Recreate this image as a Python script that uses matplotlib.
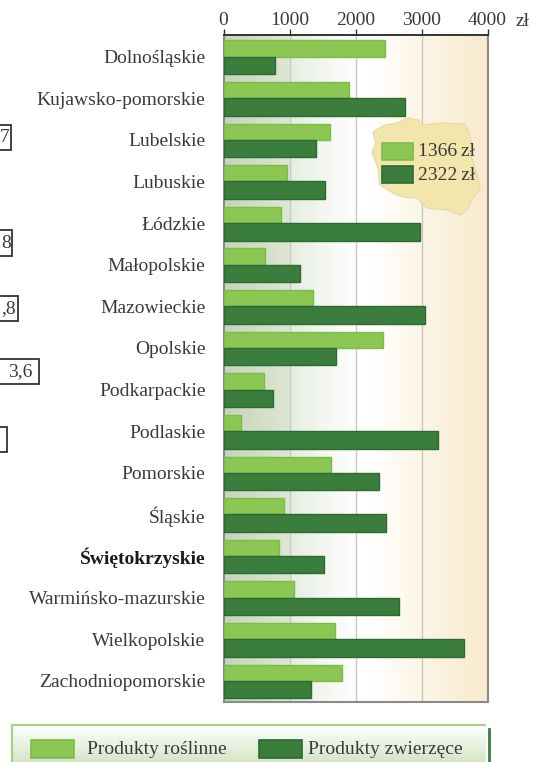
#!/usr/bin/env python3
import numpy as np
import matplotlib
matplotlib.use("Agg")
import matplotlib.pyplot as plt
from matplotlib.colors import LinearSegmentedColormap
from matplotlib.patches import Polygon, Rectangle

plt.rcParams["font.family"] = ["Liberation Serif", "DejaVu Serif"]

regions = ["Dolnośląskie", "Kujawsko-pomorskie", "Lubelskie", "Lubuskie", "Łódzkie",
           "Małopolskie", "Mazowieckie", "Opolskie", "Podkarpackie", "Podlaskie",
           "Pomorskie", "Śląskie", "Świętokrzyskie", "Warmińsko-mazurskie",
           "Wielkopolskie", "Zachodniopomorskie"]
plant = [2445, 1900, 1615, 965, 875, 635, 1360, 2415, 620, 270, 1630, 920, 845, 1070, 1690, 1795]
animal = [785, 2750, 1400, 1540, 2975, 1160, 3050, 1705, 755, 3245, 2355, 2460, 1525, 2655, 3650, 1330]
ticks = [0, 1000, 2000, 3000, 4000]

LIGHT, LIGHT_EDGE = "#8cc653", "#7cbb4d"
DARK, DARK_EDGE = "#3a7d3c", "#2c6a33"
TEXT = "#3a3a3a"
W, H = 542, 762


def fx(px):
    return px / W


def fy(py):
    return 1 - py / H


fig = plt.figure(figsize=(W / 100, H / 100), dpi=100)
ax = fig.add_axes([fx(223.5), fy(702), (487.5 - 223.5) / W, (702 - 35) / H])

# tlo wykresu: zielen -> biel -> kremowy
cmap = LinearSegmentedColormap.from_list(
    "bg", [(0, "#c5d5b8"), (0.24, "#dde6d3"), (0.26, "#e6eee0"), (0.42, "#f8faf6"),
           (0.5, "#ffffff"), (0.56, "#ffffff"), (0.7, "#fdf8ec"), (1, "#f8e9cc")])
ax.imshow(np.linspace(0, 1, 256).reshape(1, -1), cmap=cmap, aspect="auto",
          extent=[0, 4000, 16.01, -0.02], zorder=0)

y = np.arange(len(regions))
ax.barh(y + 0.305, plant, height=0.39, color=LIGHT, edgecolor=LIGHT_EDGE, lw=1, zorder=3)
ax.barh(y + 0.71, animal, height=0.42, color=DARK, edgecolor=DARK_EDGE, lw=1, zorder=4)

ax.set_xlim(0, 4000)
ax.set_ylim(16.01, -0.02)
ax.set_xticks(ticks)
ax.set_xticklabels([str(t) for t in ticks], fontsize=14, color=TEXT)
ax.xaxis.tick_top()
ax.tick_params(axis="x", length=4, width=1, color="#333333", pad=0)
for t in ticks[1:-1]:
    ax.axvline(t, color="#c9c9c0", lw=1, zorder=1)

ax.set_yticks(y + 0.5)
ax.set_yticklabels(regions, fontsize=14, color=TEXT)
ax.tick_params(axis="y", length=0, pad=13)
ax.get_yticklabels()[regions.index("Świętokrzyskie")].set_fontweight("bold")
ax.get_yticklabels()[regions.index("Świętokrzyskie")].set_color("#1a1a1a")

ax.spines["top"].set(color="#333333", lw=1.4)
for side in ["right", "bottom", "left"]:
    ax.spines[side].set(color="#8a8a8a", lw=1.5)

fig.text(fx(516), fy(21), "zł", fontsize=14, color=TEXT, va="center")

# mapa Polski ze srednimi
outline = [(373, 132), (385, 125), (397, 123), (408, 118), (418, 120), (423, 125),
           (440, 123), (465, 124), (468, 130), (472, 143), (470, 153), (475, 168),
           (480, 188), (473, 198), (467, 210), (460, 215), (447, 210), (427, 208),
           (417, 198), (403, 197), (393, 193), (380, 185), (378, 168), (372, 152),
           (376, 143)]
fig.add_artist(Polygon([(fx(a), fy(b)) for a, b in outline], closed=True,
                       transform=fig.transFigure, facecolor="#f3e6ac", edgecolor="#e8dba6",
                       lw=1, joinstyle="round", zorder=5))


def swatch(x0, y0, w, h, face, edge):
    fig.add_artist(Rectangle((fx(x0), fy(y0 + h)), w / W, h / H, transform=fig.transFigure,
                             facecolor=face, edgecolor=edge, lw=1.2, zorder=6))


swatch(382, 143, 31, 17, LIGHT, LIGHT_EDGE)
swatch(382, 166, 31, 17, DARK, DARK_EDGE)
fig.text(fx(418), fy(152), "1366\u2009zł", fontsize=14, color=TEXT, va="center", zorder=7)
fig.text(fx(418), fy(175), "2322\u2009zł", fontsize=14, color=TEXT, va="center", zorder=7)

# ramki uciete przy lewej krawedzi
for x1, y0, y1, label, tx in [(11, 125, 150, "7", 5), (12, 230, 256, "8", 6),
                              (18, 296, 321, ",8", 9), (39, 359, 384, "3,6", 20),
                              (7, 427, 452, "", 0)]:
    fig.add_artist(Rectangle((fx(-5), fy(y1)), (x1 + 5) / W, (y1 - y0) / H,
                             transform=fig.transFigure, facecolor="white",
                             edgecolor="#333333", lw=1.3))
    if label:
        fig.text(fx(tx), fy((y0 + y1) / 2), label, fontsize=14, color=TEXT,
                 ha="center", va="center")

# legenda na dole
leg = fig.add_axes([fx(11.5), 0, (485 - 11.5) / W, (762 - 725) / H])
leg.imshow(np.linspace(0, 1, 64).reshape(-1, 1),
           cmap=LinearSegmentedColormap.from_list("lg", ["#ffffff", "#d6e5c6"]),
           aspect="auto", extent=[0, 1, 0, 1])
leg.set_xticks([])
leg.set_yticks([])
leg.spines["top"].set(color="#a8d08d", lw=1.6)
leg.spines["left"].set(color="#a8d08d", lw=1.6)
leg.spines["right"].set_visible(False)
leg.spines["bottom"].set_visible(False)
fig.add_artist(plt.Line2D([fx(488.5), fx(488.5)], [fy(729), fy(762)], color=DARK, lw=2,
                          transform=fig.transFigure))
swatch(31, 740, 43, 18, LIGHT, LIGHT_EDGE)
swatch(259, 740, 43, 18, DARK, DARK_EDGE)
fig.text(fx(87), fy(750), "Produkty roślinne", fontsize=14, color=TEXT, va="center", zorder=7)
fig.text(fx(308), fy(750), "Produkty zwierzęce", fontsize=14, color=TEXT, va="center", zorder=7)

fig.savefig("out.png", dpi=100)
plt.close(fig)
